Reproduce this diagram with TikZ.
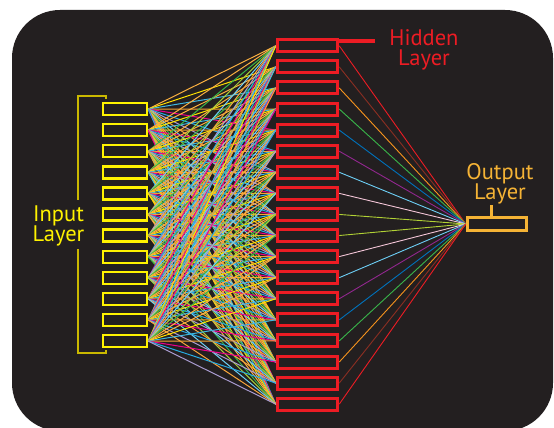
\documentclass[tikz,border=0pt]{standalone}
\usepackage{fontspec}
\setmainfont{PT Sans}
\pgfdeclarelayer{bglayer}
\pgfdeclarelayer{wires}
\pgfsetlayers{bglayer,wires,main}
\definecolor{darkbg}{HTML}{231F20}
\definecolor{inyellow}{HTML}{FFF200}
\definecolor{hidred}{HTML}{ED1C24}
\definecolor{outorange}{HTML}{F5B335}
\definecolor{brackcol}{HTML}{CAB800}
% input-hidden wire palette
\definecolor{w0}{HTML}{FBB040}
\definecolor{w1}{HTML}{27AAE1}
\definecolor{w2}{HTML}{39B54A}
\definecolor{w3}{HTML}{F7A531}
\definecolor{w4}{HTML}{6DCFF6}
\definecolor{w5}{HTML}{FFE100}
\definecolor{w6}{HTML}{A99BD0}
\definecolor{w7}{HTML}{FBB040}
\definecolor{w8}{HTML}{EC008C}
\definecolor{w9}{HTML}{A6CE39}
\definecolor{w10}{HTML}{3FB8E0}
\definecolor{w11}{HTML}{F9A53A}
% hidden-output wire palette
\definecolor{o1}{HTML}{ED1C24}
\definecolor{o2}{HTML}{8B2E22}
\definecolor{o3}{HTML}{F7941D}
\definecolor{o4}{HTML}{39B54A}
\definecolor{o5}{HTML}{0072BC}
\definecolor{o6}{HTML}{92278F}
\definecolor{o7}{HTML}{6DCFF6}
\definecolor{o8}{HTML}{F4C6D8}
\definecolor{o9}{HTML}{B2D235}
\tikzset{
  inbox/.style={draw=inyellow, fill=darkbg, line width=2.4pt, minimum width=44pt, minimum height=12pt, inner sep=0pt},
  hidbox/.style={draw=hidred, fill=darkbg, line width=3pt, minimum width=60.5pt, minimum height=12pt, inner sep=0pt},
  outbox/.style={draw=outorange, fill=darkbg, line width=3pt, minimum width=59.5pt, minimum height=12.5pt, inner sep=0pt},
  wire/.style={line width=1pt},
  outwire/.style={line width=0.9pt},
  bigtext/.style={font=\fontsize{22.5}{20.5}\selectfont, align=center, inner sep=0pt},
  brack/.style={draw=brackcol, line width=2pt}
}
\begin{document}
\begin{tikzpicture}[x=1pt,y=-1pt]
\useasboundingbox (0,0) rectangle (554,428);
\begin{pgfonlayer}{bglayer}
\fill[darkbg, rounded corners=48pt] (12,10) rectangle (553,431);
\end{pgfonlayer}
% nodes
\foreach \i in {1,...,12}
  \node[inbox] (in\i) at (125,{109+21.1*(\i-1)}) {};
\foreach \j in {1,...,18}
  \node[hidbox] (h\j) at (307.5,{45.8+21.08*(\j-1)}) {};
\node[outbox] (out) at (497,224) {};
% wires
\begin{pgfonlayer}{wires}
\foreach \i in {1,...,12}{
  \foreach \j in {1,...,18}{
    \pgfmathtruncatemacro\k{mod(\i*7+\j*5,12)}
    \draw[wire, color=w\k] (in\i.east) -- (h\j.west);
  }
}
\foreach \j in {1,...,18}{
  \pgfmathtruncatemacro\k{\j<10 ? \j : 19-\j}
  \draw[outwire, color=o\k] (h\j.east) -- (out.west);
}
\end{pgfonlayer}
% input label and bracket
\node[bigtext, text=inyellow] (inlab) at (58.5,226) {Input\\Layer};
\coordinate (btop) at (78,96);
\coordinate (bbot) at (78,353);
\draw[brack] (106,99) -- (106 ,96) -- (btop) -- (78,200);
\draw[brack] (78,249) -- (bbot) -- (106,353) -- (106,350);
% hidden label
\node[bigtext, text=hidred] (hidlab) at (424,50) {Hidden\\Layer};
\coordinate (hl) at (375,41);
\draw[hidred, line width=4.5pt] (h1.east |- hl) -- (hl);
% output label
\node[bigtext, text=outorange] (outlab) at (500,184) {Output\\Layer};
\coordinate (otick) at (491,205);
\draw[outorange, line width=3pt] (otick) -- (otick |- out.north);
\end{tikzpicture}
\end{document}
